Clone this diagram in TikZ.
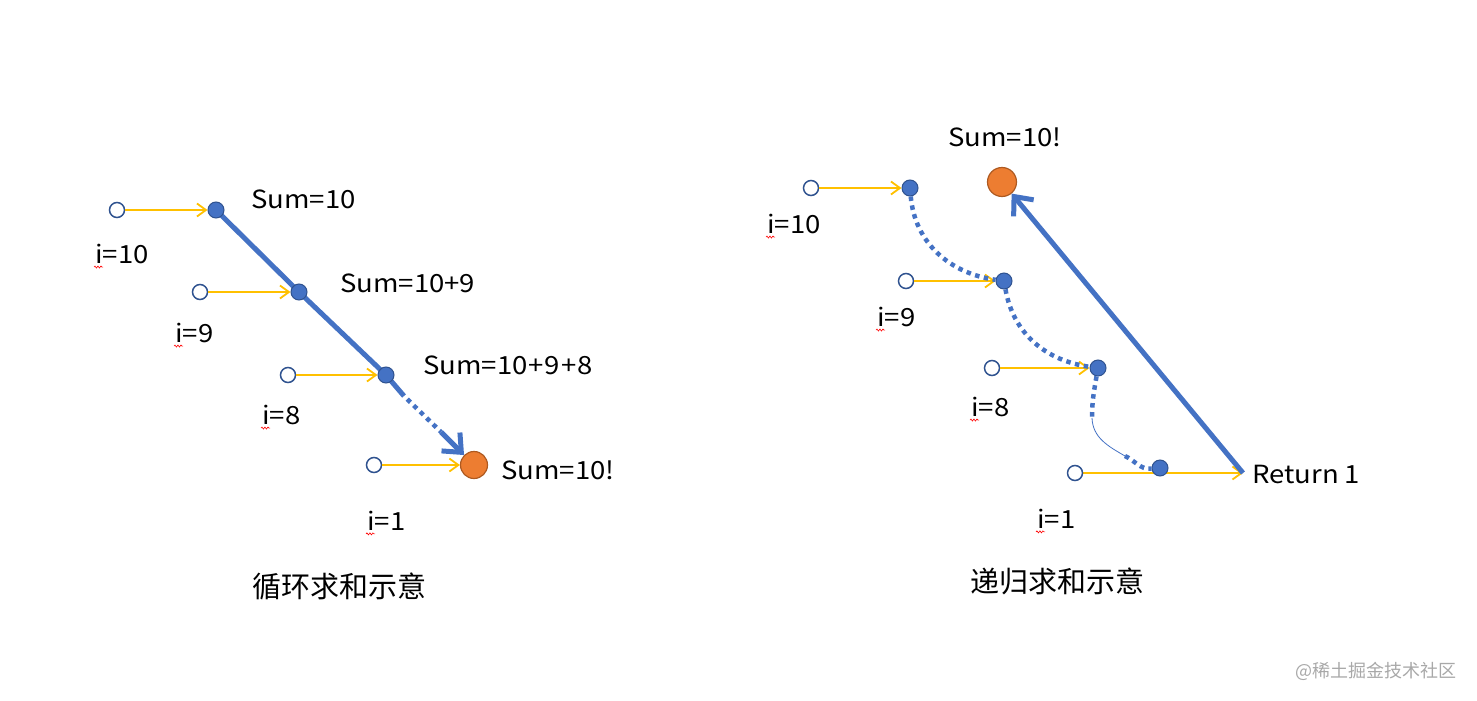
\documentclass[tikz,border=0pt]{standalone}
\usepackage{fontspec}
\setmainfont{Noto Sans CJK SC}
\newfontfamily\latinf{Noto Sans CJK SC}[FakeStretch=1.1]
\usetikzlibrary{arrows.meta,backgrounds,decorations.pathmorphing}
\definecolor{blueM}{HTML}{4472C4}
\definecolor{blueD}{HTML}{2F528F}
\definecolor{orangeM}{HTML}{ED7D31}
\definecolor{orangeD}{HTML}{AE5A21}
\definecolor{yellowM}{HTML}{FFC000}
\definecolor{wmgray}{HTML}{A8A8A8}
\tikzset{
  opencirc/.style={circle,draw=blueD,fill=white,line width=1.5pt,minimum size=15pt,inner sep=0pt},
  bdot/.style={circle,draw=blueD,fill=blueM,line width=1pt,minimum size=16pt,inner sep=0pt},
  odot/.style={circle,draw=orangeD,fill=orangeM,line width=1.2pt,minimum size=27pt,inner sep=0pt},
  yarr/.style={draw=yellowM,line width=1.8pt,-{Straight Barb[length=9pt,width=13pt]}},
  bthick/.style={draw=blueM,line width=5pt},
  bdots/.style={draw=blueM,line width=4.5pt,dash pattern=on 4.5pt off 4.5pt},
  barr/.style={draw=blueM,line width=5pt,-{Straight Barb[length=15pt,width=26pt]}},
  lbl/.style={anchor=west,inner sep=0pt,font=\latinf\fontsize{25}{25}\selectfont},
  ttl/.style={inner sep=0pt,font=\fontsize{29}{29}\selectfont},
  squig/.style={draw=red,line width=0.6pt,decorate,decoration={snake,amplitude=1pt,segment length=3pt}}
}
\begin{document}
\begin{tikzpicture}[x=1pt,y=-1pt]
\useasboundingbox (0,0) rectangle (1477,701);
% ---------- left: loop ----------
\node[opencirc] (lo1) at (117,210) {};
\node[opencirc] (lo2) at (200,292) {};
\node[opencirc] (lo3) at (288,375) {};
\node[opencirc] (lo4) at (374,465) {};
\node[bdot] (ld1) at (216,210) {};
\node[bdot] (ld2) at (299,292) {};
\node[bdot] (ld3) at (386,375) {};
\node[odot] (lor) at (474,465) {};
\coordinate (la1) at (404,396);
\coordinate (la2) at (441,432);
\begin{scope}[on background layer]
\draw[bthick] (ld1.center) -- (ld2.center) -- (ld3.center) -- (la1);
\end{scope}
\draw[bdots,dash phase=4.5pt] (la1) -- (la2);
\draw[barr] (la2) -- (lor);
\draw[yarr] (lo1) -- (ld1);
\draw[yarr] (lo2) -- (ld2);
\draw[yarr] (lo3) -- (ld3);
\draw[yarr] (lo4) -- (lor);
\node[lbl] (ls1) at (251,199) {Sum=10};
\node[lbl] (ls2) at (340,283) {Sum=10+9};
\node[lbl] (ls3) at (423,365) {Sum=10{\kern1pt}+{\kern1pt}9{\kern1pt}+{\kern1pt}8};
\node[lbl] (ls4) at (501,470) {Sum=10!};
\node[lbl] (li1) at (95,254) {i=10};
\node[lbl] (li2) at (175,333) {i=9};
\node[lbl] (li3) at (262,415) {i=8};
\node[lbl] (li4) at (367,521) {i=1};
\node[ttl] (lt) at (339,586) {循环求和示意};
\draw[squig] ([xshift=-1pt,yshift=-3pt]li1.south west) -- ++(9,0);
\draw[squig] ([xshift=-1pt,yshift=-3pt]li2.south west) -- ++(9,0);
\draw[squig] ([xshift=-1pt,yshift=-3pt]li3.south west) -- ++(9,0);
\draw[squig] ([xshift=-1pt,yshift=-3pt]li4.south west) -- ++(9,0);
% ---------- right: recursion ----------
\node[opencirc] (ro1) at (811,188) {};
\node[opencirc] (ro2) at (906,281) {};
\node[opencirc] (ro3) at (992,368) {};
\node[opencirc] (ro4) at (1075,473) {};
\node[bdot] (rd1) at (910,188) {};
\node[bdot] (rd2) at (1004,281) {};
\node[bdot] (rd3) at (1098,368) {};
\node[bdot] (rd4) at (1160,468) {};
\node[odot,minimum size=29pt] (ror) at (1002,182) {};
\coordinate (ret) at (1243,473);
\coordinate (rc1) at (1092,418);
\coordinate (rc2) at (1125,456);
\draw[yarr] (ro1) -- (rd1);
\draw[yarr] (ro2) -- (rd2);
\draw[yarr] (ro3) -- (rd3);
\begin{scope}[on background layer]
\draw[yarr] (ro4) -- (ret);
\end{scope}
\draw[bdots] (rd1) to[out=-85,in=172] (rd2);
\draw[bdots] (rd2) to[out=-80,in=172] (rd3);
\draw[bdots] (rd3) to[out=-100,in=90] (rc1);
\draw[blueM,line width=0.8pt] (rc1) to[out=-88,in=150] (rc2);
\draw[bdots] (rc2) to[out=-25,in=185] (rd4);
\draw[barr] (ret) -- (ror);
\node[lbl] (rs) at (948,137) {Sum=10!};
\node[lbl] (rr) at (1252,474) {Return 1};
\node[lbl] (ri1) at (767,224) {i=10};
\node[lbl] (ri2) at (877,317) {i=9};
\node[lbl] (ri3) at (971,407) {i=8};
\node[lbl] (ri4) at (1037,519) {i=1};
\node[ttl] (rt) at (1057,581) {递归求和示意};
\draw[squig] ([xshift=-1pt,yshift=-3pt]ri1.south west) -- ++(9,0);
\draw[squig] ([xshift=-1pt,yshift=-3pt]ri2.south west) -- ++(9,0);
\draw[squig] ([xshift=-1pt,yshift=-3pt]ri3.south west) -- ++(9,0);
\draw[squig] ([xshift=-1pt,yshift=-3pt]ri4.south west) -- ++(9,0);
% watermark
\node[inner sep=0pt,text=wmgray,font=\fontsize{18}{18}\selectfont] (wm) at (1376,671) {@稀土掘金技术社区};
\end{tikzpicture}
\end{document}
